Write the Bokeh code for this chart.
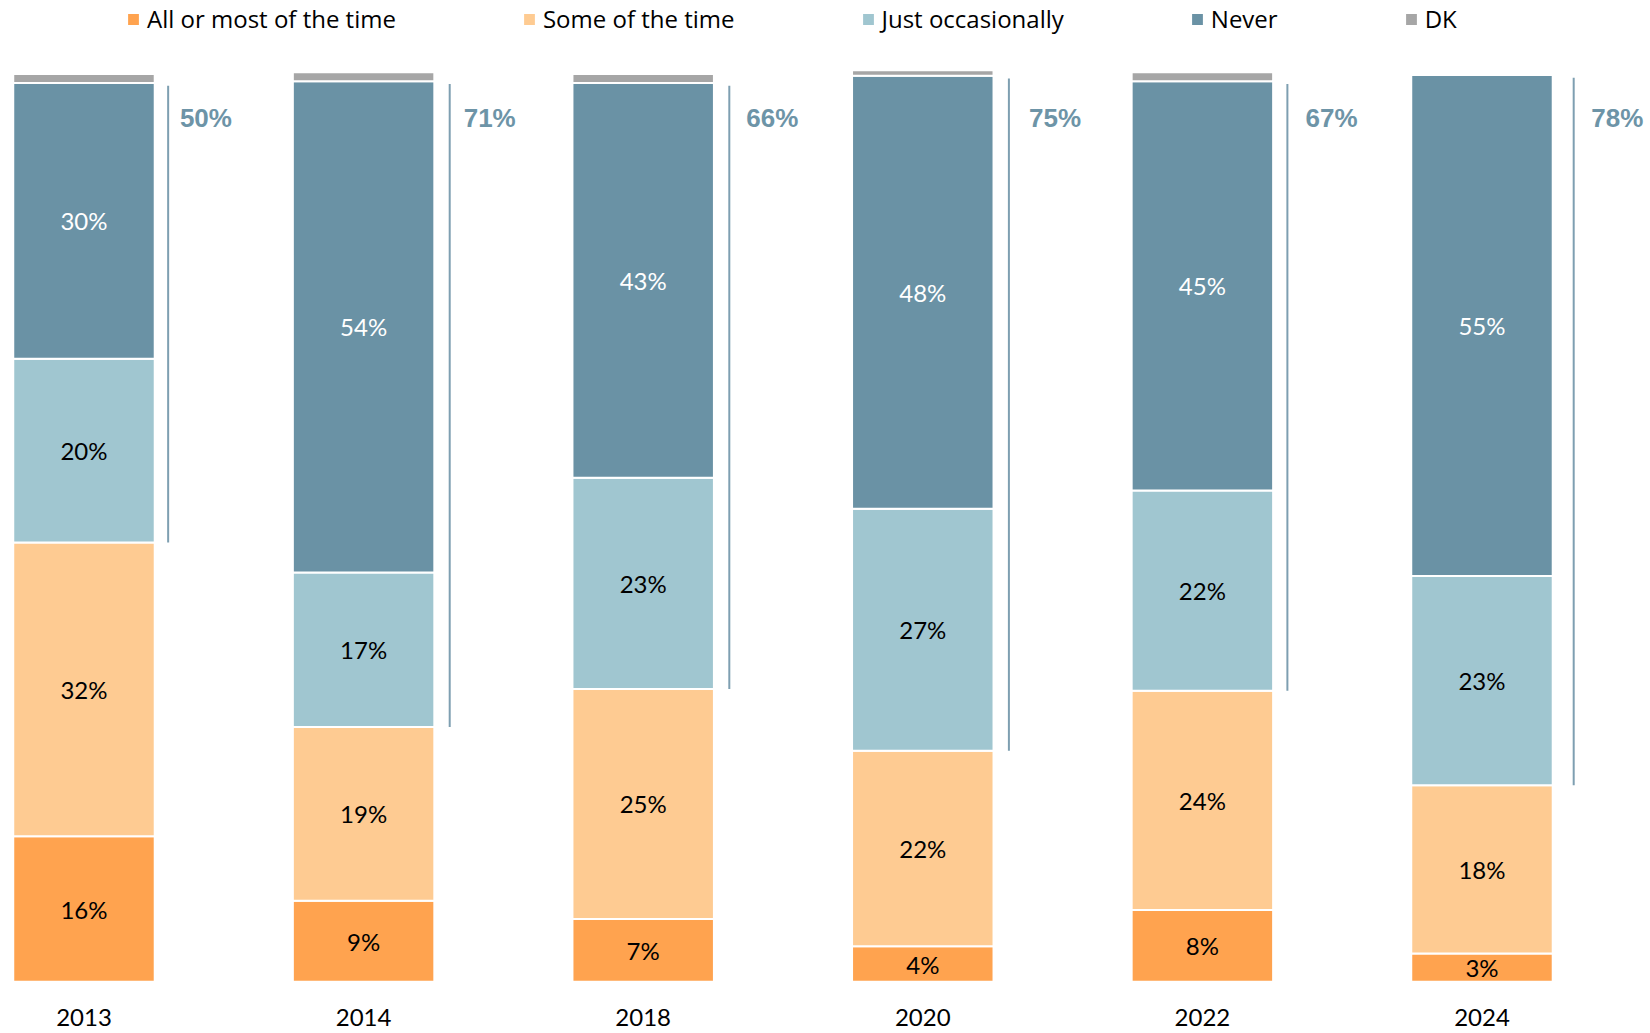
from bokeh.plotting import figure
from bokeh.models import ColumnDataSource, Legend, LegendItem
from bokeh.core.properties import value
from bokeh.embed import file_html
from bokeh.resources import INLINE

# ---- data ----
years = ["2013", "2014", "2018", "2020", "2022", "2024"]
categories = ["All or most of the time", "Some of the time", "Just occasionally", "Never", "DK"]
all_most = [16.0, 8.9, 6.9, 3.9, 7.9, 3.1]
some_time = [32.3, 19.1, 25.3, 21.5, 24.1, 18.5]
occasionally = [20.2, 17.0, 23.2, 26.6, 22.0, 23.0]
never = [30.3, 54.0, 43.4, 47.6, 45.0, 55.1]
dk = [1.0, 1.0, 1.0, 0.6, 1.0, 0.0]

colors = ["#FFA34F", "#FECB92", "#A0C6D0", "#6A92A5", "#A6A6A6"]
text_colors = ["#000000", "#000000", "#000000", "#FFFFFF"]

# small manual nudges of the annotation brackets / labels (in category units)
line_nudge = [-0.010, -0.003, -0.003, -0.003, -0.007, 0.017]
label_nudge = [-0.026, -0.011, 0.0, 0.011, 0.0, 0.022]

FONT = "Lato"

x = list(range(len(years)))
keys = ["all_most", "some_time", "occasionally", "never", "dk"]
src = ColumnDataSource(dict(x=x, all_most=all_most, some_time=some_time,
                            occasionally=occasionally, never=never, dk=dk))

W, H = 1646, 1030
p = figure(width=W, height=H, x_range=(-0.2986, -0.2986 + W / 279.6),
           y_range=(107.88 - H / 9.096, 107.88),
           output_backend="svg", toolbar_location=None, min_border=0)
p.axis.visible = False
p.grid.visible = False
p.outline_line_color = None
p.background_fill_color = "white"

renderers = p.vbar_stack(keys, x="x", width=0.506, source=src, color=colors,
                         line_color="white", line_width=2)

# labels inside segments
lx, ly, lt, lc = [], [], [], []
series = [all_most, some_time, occasionally, never]
for i in x:
    base = 0.0
    for k, s in enumerate(series):
        v = s[i]
        lx.append(i)
        ly.append(base + v / 2)
        lt.append(f"{round(v)}%")
        lc.append(text_colors[k])
        base += v
p.text(x=lx, y=ly, text=lt, text_color=lc, text_font=value(FONT), text_font_size="24px",
       text_align="center", text_baseline="middle")

# year labels
p.text(x=x, y=[-3.95] * len(x), text=years, text_font=value(FONT), text_font_size="24px",
       text_color="#000000", text_align="center", text_baseline="middle")

# bracket lines and net percentages (Just occasionally + Never)
line_x = [i + 0.311 + line_nudge[i] for i in x]
y0 = [all_most[i] + some_time[i] for i in x]
y1 = [all_most[i] + some_time[i] + occasionally[i] + never[i] - 0.3 for i in x]
p.segment(x0=line_x, y0=y0, x1=line_x, y1=y1, line_color="#7E9FB1", line_width=2)
net = [f"{round(occasionally[i]) + round(never[i])}%" for i in x]
p.text(x=[i + 0.462 + label_nudge[i] for i in x], y=[95.0] * len(x), text=net,
       text_font=value("Liberation Sans"), text_font_style="bold", text_font_size="26px",
       text_color="#6D94A7", text_align="center", text_baseline="middle")

legend = Legend(items=[LegendItem(label=c, renderers=[r]) for c, r in zip(categories, renderers)],
                orientation="horizontal", location=(125, 995),
                glyph_width=16, glyph_height=16, label_standoff=6, spacing=125,
                padding=0, margin=0, border_line_color=None, background_fill_alpha=0,
                label_text_font="Open Sans", label_text_font_size="24px",
                label_text_color="#000000")
p.add_layout(legend, "center")

open("out.html", "w").write(file_html(p, INLINE))
